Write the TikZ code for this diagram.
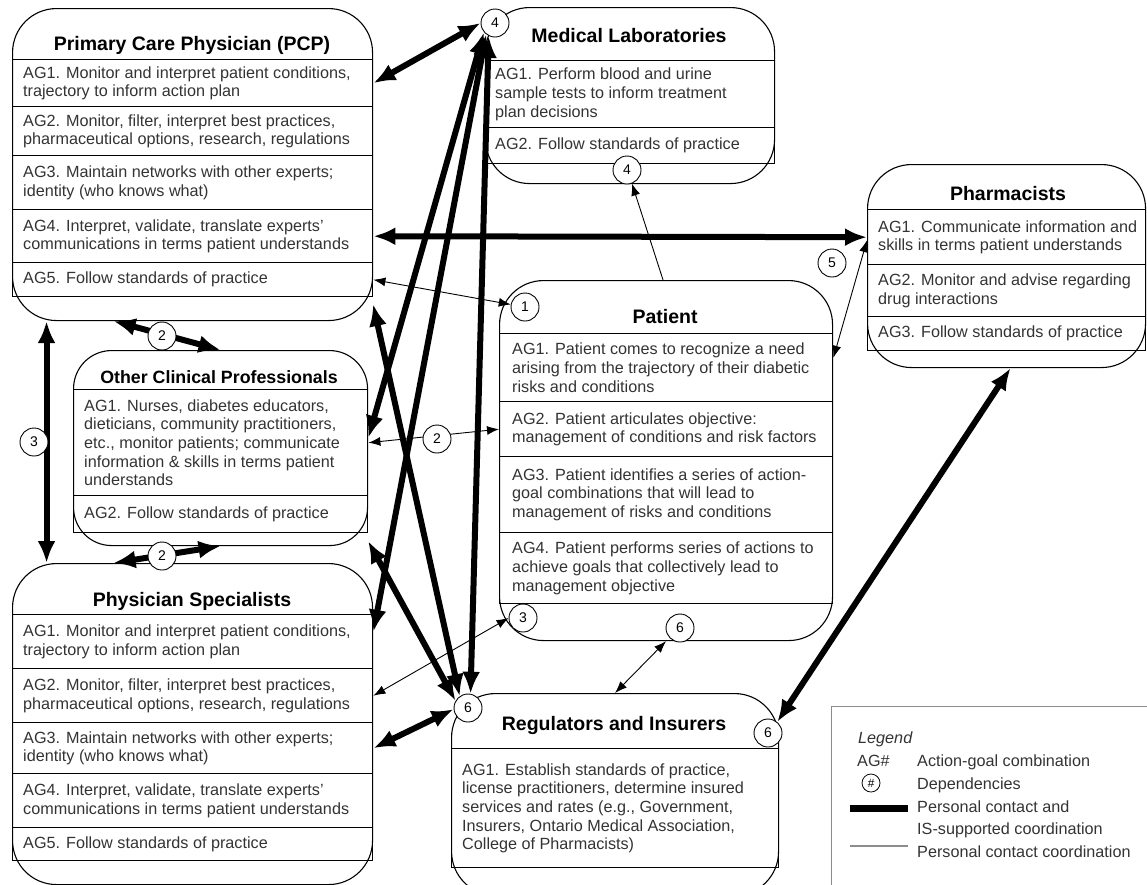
\documentclass[tikz,border=0pt]{standalone}
\usepackage{fontspec}
\setmainfont{Liberation Sans}
\usetikzlibrary{arrows.meta,backgrounds}
\definecolor{txt}{HTML}{333333}
\definecolor{leggray}{HTML}{8C8C8C}
\newcommand\bodyfnt{\fontsize{16.2pt}{18.7pt}\selectfont}
\newcommand\titlefnt{\fontsize{19.5pt}{23pt}\selectfont\bfseries}
\begin{document}
\begin{tikzpicture}[x=1pt, y=-1pt,
  frame/.style={draw, line width=1.1pt, rounded corners=44pt, anchor=north west, inner sep=0pt},
  row/.style={draw, line width=1.4pt, anchor=north west, inner sep=0pt},
  body/.style={anchor=west, align=left, inner sep=0pt, font=\bodyfnt, text=txt},
  ttl/.style={anchor=base, inner sep=0pt, font=\titlefnt},
  dep/.style={circle, draw, line width=0.9pt, fill=white, minimum size=28pt, inner sep=0pt, font=\fontsize{14pt}{14pt}\selectfont},
  thk/.style={line width=6pt, {Latex[length=22pt,width=18pt]}-{Latex[length=22pt,width=18pt]}},
  thn/.style={line width=0.9pt, {Latex[length=12pt,width=9pt]}-{Latex[length=12pt,width=9pt]}},
  thnone/.style={line width=0.9pt, -{Latex[length=12pt,width=9pt]}},
  legtxt/.style={anchor=base west, inner sep=0pt, font=\bodyfnt, text=txt}
]
\useasboundingbox (0,0) rectangle (1147,884);
\clip (0,0) rectangle (1147,884);

% ---------- Primary Care Physician ----------
\node[frame, minimum width=360pt, minimum height=312pt] (pcpF) at (12,8) {};
\node[ttl] (pcpT) at (192,50) {Primary Care Physician (PCP)};
\node[row, minimum width=360pt, minimum height=47pt] (pcp1) at (12,59) {};
\node[row, minimum width=360pt, minimum height=49pt] (pcp2) at (12,106) {};
\node[row, minimum width=360pt, minimum height=54pt] (pcp3) at (12,155) {};
\node[row, minimum width=360pt, minimum height=53pt] (pcp4) at (12,209) {};
\node[row, minimum width=360pt, minimum height=34pt] (pcp5) at (12,262) {};
\node[body] (pcp1t) at ([xshift=11pt]pcp1.west) {AG1. Monitor and interpret patient conditions,\\trajectory to inform action plan};
\node[body] (pcp2t) at ([xshift=11pt]pcp2.west) {AG2. Monitor, filter, interpret best practices,\\pharmaceutical options, research, regulations};
\node[body] (pcp3t) at ([xshift=11pt]pcp3.west) {AG3. Maintain networks with other experts;\\identity (who knows what)};
\node[body] (pcp4t) at ([xshift=11pt]pcp4.west) {AG4. Interpret, validate, translate experts’\\communications in terms patient understands};
\node[body] (pcp5t) at ([xshift=11pt]pcp5.west) {AG5. Follow standards of practice};

% ---------- Medical Laboratories ----------
\node[frame, minimum width=289pt, minimum height=176pt] (mlF) at (485,7) {};
\node[ttl] (mlT) at (629,42) {Medical Laboratories};
\node[row, minimum width=289pt, minimum height=67pt] (ml1) at (485,60) {};
\node[row, minimum width=289pt, minimum height=36pt] (ml2) at (485,127) {};
\node[body] (ml1t) at ([xshift=10pt]ml1.west) {AG1. Perform blood and urine\\sample tests to inform treatment\\plan decisions};
\node[body] (ml2t) at ([xshift=10pt]ml2.west) {AG2. Follow standards of practice};

% ---------- Pharmacists ----------
\node[frame, minimum width=278pt, minimum height=203pt] (phF) at (867,164) {};
\node[ttl] (phT) at (1008,200) {Pharmacists};
\node[row, minimum width=278pt, minimum height=55pt] (ph1) at (867,209) {};
\node[row, minimum width=278pt, minimum height=52pt] (ph2) at (867,264) {};
\node[row, minimum width=278pt, minimum height=34pt] (ph3) at (867,316) {};
\node[body] (ph1t) at ([xshift=11pt]ph1.west) {AG1. Communicate information and\\skills in terms patient understands};
\node[body] (ph2t) at ([xshift=11pt]ph2.west) {AG2. Monitor and advise regarding\\drug interactions};
\node[body] (ph3t) at ([xshift=11pt]ph3.west) {AG3. Follow standards of practice};

% ---------- Patient ----------
\node[frame, minimum width=333pt, minimum height=360pt] (patF) at (499,280) {};
\node[ttl] (patT) at (665,323) {Patient};
\node[row, minimum width=333pt, minimum height=68pt] (pat1) at (499,333) {};
\node[row, minimum width=333pt, minimum height=55pt] (pat2) at (499,401) {};
\node[row, minimum width=333pt, minimum height=76pt] (pat3) at (499,456) {};
\node[row, minimum width=333pt, minimum height=71pt] (pat4) at (499,532) {};
\node[body] (pat1t) at ([xshift=13pt]pat1.west) {AG1. Patient comes to recognize a need\\arising from the trajectory of their diabetic\\risks and conditions};
\node[body] (pat2t) at ([xshift=13pt]pat2.west) {AG2. Patient articulates objective:\\management of conditions and risk factors};
\node[body] (pat3t) at ([xshift=13pt]pat3.west) {AG3. Patient identifies a series of action-\\goal combinations that will lead to\\management of risks and conditions};
\node[body] (pat4t) at ([xshift=13pt]pat4.west) {AG4. Patient performs series of actions to\\achieve goals that collectively lead to\\management objective};

% ---------- Other Clinical Professionals ----------
\node[frame, rounded corners=38pt, minimum width=294pt, minimum height=195pt] (ocpF) at (73,350) {};
\node[ttl, font=\fontsize{17.8pt}{21pt}\selectfont\bfseries] (ocpT) at (219,383) {Other Clinical Professionals};
\node[row, minimum width=294pt, minimum height=106pt] (ocp1) at (73,389) {};
\node[row, minimum width=294pt, minimum height=37pt] (ocp2) at (73,495) {};
\node[body] (ocp1t) at ([xshift=11pt]ocp1.west) {AG1. Nurses, diabetes educators,\\dieticians, community practitioners,\\etc., monitor patients; communicate\\information \& skills in terms patient\\understands};
\node[body] (ocp2t) at ([xshift=11pt]ocp2.west) {AG2. Follow standards of practice};

% ---------- Physician Specialists ----------
\node[frame, minimum width=360pt, minimum height=321pt] (psF) at (12,563) {};
\node[ttl] (psT) at (192,606) {Physician Specialists};
\node[row, minimum width=360pt, minimum height=54pt] (ps1) at (12,614) {};
\node[row, minimum width=360pt, minimum height=54pt] (ps2) at (12,668) {};
\node[row, minimum width=360pt, minimum height=51pt] (ps3) at (12,722) {};
\node[row, minimum width=360pt, minimum height=54pt] (ps4) at (12,773) {};
\node[row, minimum width=360pt, minimum height=33pt] (ps5) at (12,827) {};
\node[body] (ps1t) at ([xshift=11pt]ps1.west) {AG1. Monitor and interpret patient conditions,\\trajectory to inform action plan};
\node[body] (ps2t) at ([xshift=11pt]ps2.west) {AG2. Monitor, filter, interpret best practices,\\pharmaceutical options, research, regulations};
\node[body] (ps3t) at ([xshift=11pt]ps3.west) {AG3. Maintain networks with other experts;\\identity (who knows what)};
\node[body] (ps4t) at ([xshift=11pt]ps4.west) {AG4. Interpret, validate, translate experts’\\communications in terms patient understands};
\node[body] (ps5t) at ([xshift=11pt]ps5.west) {AG5. Follow standards of practice};

% ---------- Regulators and Insurers ----------
\node[frame, minimum width=327pt, minimum height=202pt] (regF) at (451,693) {};
\node[ttl] (regT) at (614,730) {Regulators and Insurers};
\node[row, minimum width=327pt, minimum height=119pt] (reg1) at (451,748) {};
\node[body] (reg1t) at ([xshift=11pt]reg1.west) {AG1. Establish standards of practice,\\license practitioners, determine insured\\services and rates (e.g., Government,\\Insurers, Ontario Medical Association,\\College of Pharmacists)};

% ---------- Dependency circles ----------
\node[dep] (c4a) at (495,23) {4};
\node[dep] (c4b) at (627,170) {4};
\node[dep] (c5) at (832,263) {5};
\node[dep] (c1) at (525,307) {1};
\node[dep] (c3p) at (523,618) {3};
\node[dep] (c6p) at (680,628) {6};
\node[dep] (c2t) at (162,336) {2};
\node[dep] (c3l) at (34,442) {3};
\node[dep] (c2m) at (437,439) {2};
\node[dep] (c2b) at (162,556) {2};
\node[dep] (c6r) at (468,708) {6};
\node[dep] (c6rr) at (768,733) {6};

% ---------- Connectors ----------
\begin{pgfonlayer}{background}
\draw[thk] (pcp1.east) -- (c4a.west);
\draw[thk] (pcp4.east) -- (ph1.west);
\draw[thk] (c4a.220) -- ([yshift=5pt]ocp1.east);
\draw[thk] (c4a.232) -- ([yshift=10pt]ps1.east);
\draw[thk] (c4a.244) -- (c6r.80);
\draw[thk] ([yshift=17pt]pcpF.south east) -- (c6r.125);
\draw[thk] ([yshift=5pt]ocpF.south east) -- (c6r.150);
\draw[thk] (ps3.east) -- (c6r.185);
\draw[thk] ([xshift=4pt]phF.south) -- (c6rr.50);
\draw[thk] ([xshift=-79pt]pcpF.south) -- (ocpF.north);
\draw[thk] (ocpF.south) -- ([xshift=-79pt]psF.north);
\draw[thk] ([xshift=-146pt]pcpF.south) -- ([xshift=-146pt]psF.north);

\draw[thn] (pcp5.east) -- (c1.170);
\draw[thn] (ocp1.east) -- (pat2.west);
\draw[thn] (ps2.east) -- (c3p.180);
\draw[thn] ([yshift=-3pt]ph1.west) -- ([yshift=10pt]pat1.east);
\draw[thn] (patF.south) -- (regF.north);
\draw[thnone] ([xshift=-3pt]patF.north) -- (c4b.-70);
\end{pgfonlayer}

% ---------- Legend ----------
\node[draw=leggray, line width=1.4pt, anchor=north west, minimum width=340pt, minimum height=200pt, inner sep=0pt] (legF) at (831,706) {};
\node[legtxt, font=\bodyfnt\itshape] (legT) at (858,743) {Legend};
\node[legtxt] (legAG) at (857,766) {AG\#};
\node[legtxt] (legAGd) at (917,766) {Action-goal combination};
\node[circle, draw, line width=0.8pt, minimum size=18pt, inner sep=0pt, font=\fontsize{12pt}{12pt}\selectfont\itshape] (legC) at (871,783) {\#};
\node[legtxt] (legDep) at (917,789) {Dependencies};
\coordinate (lb1) at (850,808);
\coordinate (lb2) at (908,808);
\draw[line width=7pt] (lb1) -- (lb2);
\node[legtxt] (legPC1) at (917,812) {Personal contact and};
\node[legtxt] (legPC2) at (917,834) {IS-supported coordination};
\coordinate (lg1) at (850,846);
\coordinate (lg2) at (908,846);
\draw[line width=2pt, leggray] (lg1) -- (lg2);
\node[legtxt] (legPC3) at (917,857) {Personal contact coordination};
\end{tikzpicture}
\end{document}
